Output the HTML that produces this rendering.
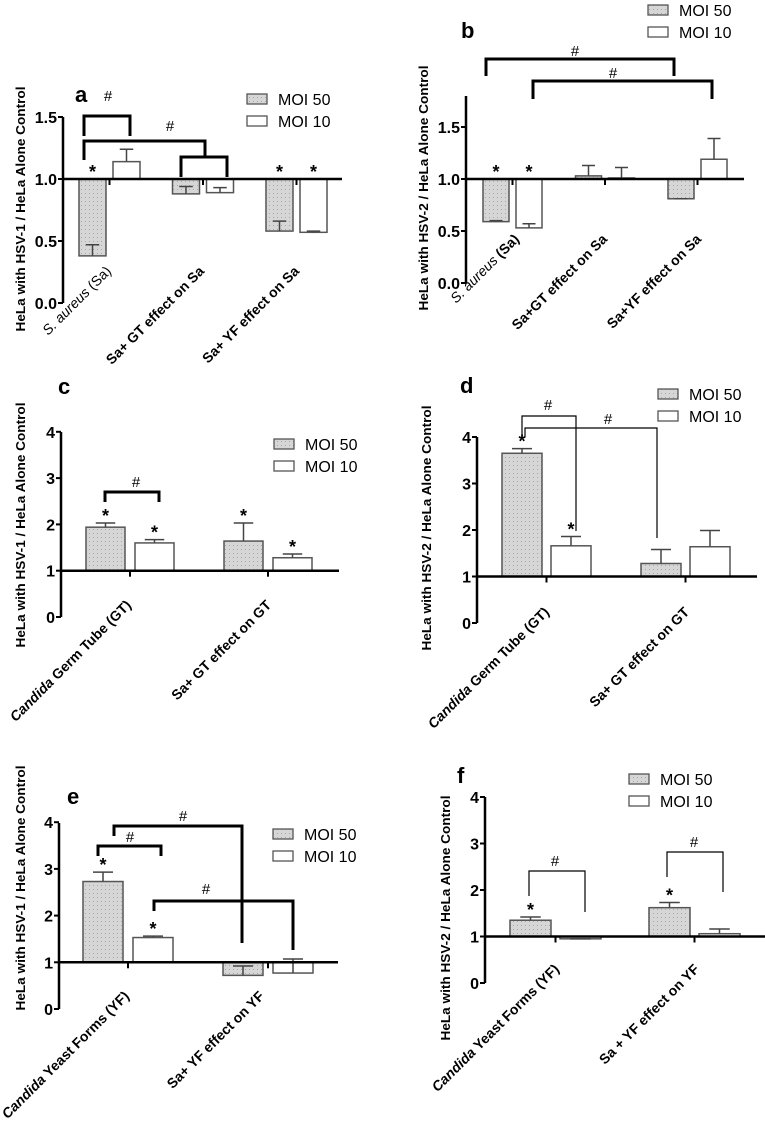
<!DOCTYPE html>
<html><head><meta charset="utf-8"><style>
html,body{margin:0;padding:0;background:#fff;}
svg{display:block;font-family:"Liberation Sans",Arial,sans-serif;}
</style></head><body>
<svg id="fig" width="765" height="1126" viewBox="0 0 765 1126" xmlns="http://www.w3.org/2000/svg">
<defs>
<pattern id="dots" width="4" height="4" patternUnits="userSpaceOnUse">
<rect width="4" height="4" fill="#d6d6d6"/><rect x="1" y="1" width="1" height="1" fill="#a8a8a8"/>
</pattern>
</defs>
</svg>
<script>
// ---- data ----
const aCats=["S. aureus (Sa)","Sa+ GT effect on Sa","Sa+ YF effect on Sa"];
const aMoi50=[0.38,0.88,0.58]; const aErr50=[0.47,0.94,0.66];
const aMoi10=[1.14,0.89,0.57]; const aErr10=[1.24,0.93,0.58];
const aStar50=[1,0,1]; const aStar10=[0,0,1];
const aTicks=["0.0","0.5","1.0","1.5"];

const bCats=["S. aureus (Sa)","Sa+GT effect on Sa","Sa+YF effect on Sa"];
const bMoi50=[0.59,1.03,0.81]; const bErr50=[0.60,1.13,0.81];
const bMoi10=[0.53,1.01,1.19]; const bErr10=[0.57,1.11,1.39];
const bStar50=[1,0,0]; const bStar10=[1,0,0];
const bTicks=["0.0","0.5","1.0","1.5"];

const cCats=["Candida Germ Tube (GT)","Sa+ GT effect on GT"];
const cMoi50=[1.94,1.64]; const cErr50=[2.03,2.03];
const cMoi10=[1.60,1.28]; const cErr10=[1.67,1.36];
const cStar50=[1,1]; const cStar10=[1,1];
const cTicks=["0","1","2","3","4"];

const dCats=["Candida Germ Tube (GT)","Sa+ GT effect on GT"];
const dMoi50=[3.65,1.28]; const dErr50=[3.75,1.58];
const dMoi10=[1.66,1.64]; const dErr10=[1.86,1.99];
const dStar50=[1,0]; const dStar10=[1,0];
const dTicks=["0","1","2","3","4"];

const eCats=["Candida Yeast Forms (YF)","Sa+ YF effect on YF"];
const eMoi50=[2.73,0.72]; const eErr50=[2.93,0.92];
const eMoi10=[1.53,0.77]; const eErr10=[1.56,1.07];
const eStar50=[1,0]; const eStar10=[1,0];
const eTicks=["0","1","2","3","4"];

const fCats=["Candida Yeast Forms (YF)","Sa + YF effect on YF"];
const fMoi50=[1.35,1.62]; const fErr50=[1.42,1.73];
const fMoi10=[0.95,1.06]; const fErr10=[0.95,1.16];
const fStar50=[1,1]; const fStar10=[0,0];
const fTicks=["0","1","2","3","4"];

// ---- layout ----
const NS="http://www.w3.org/2000/svg";
const svg=document.getElementById('fig');
function mk(tag,attrs,parent,txt){const e=document.createElementNS(NS,tag);for(const k in attrs)e.setAttribute(k,attrs[k]);if(txt!==undefined)e.textContent=txt;(parent||svg).appendChild(e);return e;}

const panels=[
 {id:'a',cats:aCats,m50:aMoi50,e50:aErr50,m10:aMoi10,e10:aErr10,s50:aStar50,s10:aStar10,ticks:aTicks,
  ax:63,zero:303,unit:124,top:117,xEnd:342,first:79,bw:27,gap:7,sp:93.5,
  letter:[75,102],ylab:'HeLa with HSV-1 / HeLa Alone Control',ylx:20,yly:209,leg:[247,94],thick:3,
  lab:[[112,272],[205,272],[300,272]],
  brackets:[[84,130,116,136,136,'#',108,101],[84,205,141,160,157,'#',170,131],[181,227,157,177,177,null]]},
 {id:'b',cats:bCats,m50:bMoi50,e50:bErr50,m10:bMoi10,e10:bErr10,s50:bStar50,s10:bStar10,ticks:bTicks,
  ax:466,zero:283,unit:104,top:96,xEnd:744,first:483,bw:26,gap:7,sp:92.5,
  letter:[461,38],ylab:'HeLa with HSV-2 / HeLa Alone Control',ylx:423,yly:188,leg:[648,5],thick:3,
  lab:[[520,240],[608,240],[702,240]],
  brackets:[[486,674,59,76,76,'#',575,56],[533,712,81,99,99,'#',613,78]]},
 {id:'c',cats:cCats,m50:cMoi50,e50:cErr50,m10:cMoi10,e10:cErr10,s50:cStar50,s10:cStar10,ticks:cTicks,
  ax:61,zero:617,unit:46.3,top:432,xEnd:339,first:86,bw:39,gap:10,sp:138,
  letter:[58,394],ylab:'HeLa with HSV-1 / HeLa Alone Control',ylx:20,yly:525,leg:[274,439],thick:3,
  lab:[[132,606],[272,606]],
  brackets:[[105,159,492,502,502,'#',136,487]]},
 {id:'d',cats:dCats,m50:dMoi50,e50:dErr50,m10:dMoi10,e10:dErr10,s50:dStar50,s10:dStar10,ticks:dTicks,
  ax:477,zero:623,unit:46.5,top:437,xEnd:757,first:502,bw:40,gap:9,sp:139,
  letter:[460,393],ylab:'HeLa with HSV-2 / HeLa Alone Control',ylx:426,yly:528,leg:[658,389],thick:1.2,
  lab:[[550,613],[690,613]],
  brackets:[[522,576,416,437,531,'#',548,410],[525,657,428,437,538,'#',608,424]]},
 {id:'e',cats:eCats,m50:eMoi50,e50:eErr50,m10:eMoi10,e10:eErr10,s50:eStar50,s10:eStar10,ticks:eTicks,
  ax:59,zero:1009,unit:46.7,top:823,xEnd:338,first:83,bw:40,gap:10,sp:140,
  letter:[67,804],ylab:'HeLa with HSV-1 / HeLa Alone Control',ylx:20,yly:888,leg:[273,829],thick:3,
  lab:[[130,997],[265,997]],
  brackets:[[98,161,846,856,856,'#',130,842],[114,242,826,836,943,'#',183,821],[154,293,901,911,950,'#',206,894]]},
 {id:'f',cats:fCats,m50:fMoi50,e50:fErr50,m10:fMoi10,e10:fErr10,s50:fStar50,s10:fStar10,ticks:fTicks,
  ax:485,zero:983,unit:46.5,top:797,xEnd:765,first:510,bw:41,gap:9,sp:139,
  letter:[457,783],ylab:'HeLa with HSV-2 / HeLa Alone Control',ylx:445,yly:918,leg:[629,774],thick:1.2,
  lab:[[560,970],[700,970]],
  brackets:[[529,585,871,896,912,'#',555,866],[667,723,852,877,892,'#',694,847]]}
];

panels.forEach(p=>{
  const g=mk('g',{});
  
  
  const y=v=>p.zero-v*p.unit;
  const tickStep=parseFloat(p.ticks[1]);
  const L=mk('text',{x:p.letter[0],y:p.letter[1],'font-size':22,'font-weight':'bold'},g,p.id);
  
  
  const axl=mk('line',{x1:p.ax,y1:p.top,x2:p.ax,y2:y(0),stroke:'#000','stroke-width':2.5},g);
  
  
  p.ticks.forEach((t,i)=>{
    const ty=y(i*tickStep);
    mk('line',{x1:p.ax-5,y1:ty,x2:p.ax,y2:ty,stroke:'#000','stroke-width':2},g);
    const tl=mk('text',{x:p.ax-6,y:ty+6,'font-size':16,'font-weight':'bold','text-anchor':'end'},g,t);
    
    
  });
  const yt=mk('text',{transform:`translate(${p.ylx},${p.yly}) rotate(-90)`,y:5,'font-size':13,'font-weight':'bold','text-anchor':'middle',textLength:245,lengthAdjust:'spacingAndGlyphs'},g,p.ylab);
  
  
  p.cats.forEach((c,i)=>{
    const x50=p.first+i*p.sp, x10=x50+p.bw+p.gap;
    [[x50,p.m50[i],p.e50[i],p.s50[i],'url(#dots)','moi50'],[x10,p.m10[i],p.e10[i],p.s10[i],'#fff','moi10']].forEach(([bx,v,ev,st,fill,nm])=>{
      const y1=Math.min(y(v),y(1)), h=Math.abs(y(v)-y(1));
      const r=mk('rect',{x:bx,y:y1,width:p.bw,height:Math.max(h,1),fill:fill,stroke:'#555','stroke-width':1.5},g);
      
      
      const cx=bx+p.bw/2;
      const eb=mk('path',{d:`M${cx},${y(v)}V${y(ev)}M${cx-p.bw/4},${y(ev)}H${cx+p.bw/4}`,stroke:'#444','stroke-width':1.5,fill:'none'},g);
      
      
      if(st){
        const topY=Math.min(y(ev),y(v),y(1));
        const s=mk('text',{x:cx,y:topY-1,'font-size':18,'font-weight':'bold','text-anchor':'middle'},g,'*');
        
        
      }
    });
    const gc=x50+p.bw+p.gap/2;
    mk('line',{x1:gc,y1:y(1),x2:gc,y2:y(1)+6,stroke:'#000','stroke-width':2},g);
    const [lx,ly]=p.lab[i];
    const t=mk('text',{transform:`translate(${lx},${ly}) rotate(-45)`,'font-size':14,'font-weight':'bold','text-anchor':'end'},g);
    
    
    const m=c.match(/^(S\. aureus|Candida)(.*)$/);
    if(m){
      mk('tspan',{'font-style':'italic','font-weight':m[1]==='S. aureus'?'normal':'bold'},t,m[1]);
      mk('tspan',{'font-weight':m[1]==='S. aureus'&&p.id==='a'?'normal':'bold'},t,m[2]);
    } else t.textContent=c;
  });
  const bl=mk('line',{x1:p.ax,y1:y(1),x2:p.xEnd,y2:y(1),stroke:'#000','stroke-width':2.5},g);
  
  
  p.brackets.forEach(b=>{
    const [x1,x2,by,l1,l2,lab,tx,ty]=b;
    const br=mk('path',{d:`M${x1},${l1}V${by}H${x2}V${l2}`,stroke:'#000','stroke-width':p.thick,fill:'none'},g);
    
    
    if(lab){
      const h=mk('text',{x:tx,y:ty,'font-size':15,'text-anchor':'middle'},g,lab);
      
      
    }
  });
  const [lx,ly]=p.leg;
  const lg=mk('g',{},g);
  
  
  [['url(#dots)','MOI 50',0],['#fff','MOI 10',22]].forEach(([f,t,dy])=>{
    mk('rect',{x:lx,y:ly+dy,width:20,height:10,fill:f,stroke:'#555','stroke-width':1.3},lg);
    const lt=mk('text',{x:lx+31,y:ly+dy+11,'font-size':16},lg,t);
    
    
  });
});
</script>
</body></html>
